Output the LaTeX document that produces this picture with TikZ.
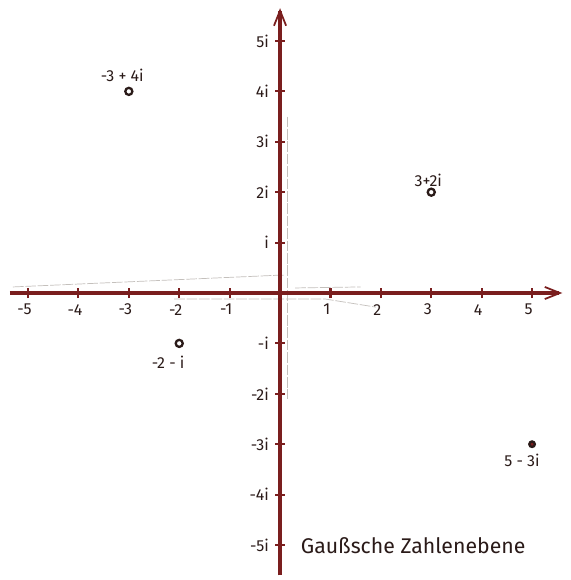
\documentclass[tikz,border=0pt]{standalone}
\usepackage{fontspec}
\setsansfont{Fira Sans}
\usetikzlibrary{arrows.meta,calc}
\definecolor{axisred}{HTML}{7A1E1E}
\definecolor{ink}{HTML}{2A1A18}
\definecolor{pencil}{HTML}{C4C0BC}
\tikzset{
  axis/.style={draw=axisred, line width=2pt, -{Straight Barb[length=3mm, width=2.4mm, line width=1pt]}},
  tick/.style={draw=axisred, line width=1.2pt},
  lbl/.style={text=ink, font=\sffamily\small, inner sep=1pt},
  pt/.style={draw=ink, line width=1.3pt},
  guide/.style={draw=pencil, line width=0.4pt, dash pattern=on 6pt off 1pt}}
\begin{document}
\begin{tikzpicture}[x=1cm, y=1cm]
\useasboundingbox[fill=white] (-5.556,-5.694) rectangle (5.754,5.813);
% faint pencil guides
\draw[guide] (-5.3,0.12) -- (-0.1,0.35) -- (0.1,0.35);
\draw[guide] (-2.1,-0.12) -- (0.9,-0.12) -- (1.9,-0.28);
\draw[guide] (0.14,3.5) -- (0.14,-2.1);
\draw[guide] (0.3,0.1) -- (1.6,0.12);
% axes
\coordinate (xs) at (-5.36,0);
\coordinate (xe) at (5.6,0);
\coordinate (ys) at (0,-5.6);
\coordinate (ye) at (0,5.65);
\draw[axis] (xs) -- (xe);
\draw[axis] (ys) -- (ye);
% ticks and labels
\foreach \k in {-5,-4,-3,-2,-1,1,2,3,4,5}{
  \draw[tick] (\k,-0.1) -- (\k,0.1);
  \node[lbl] (x\k) at (\k-0.07,-0.33) {\k};
  \draw[tick] (-0.1,\k) -- (0.1,\k);
}
\foreach \k/\t in {5/5i,4/4i,3/3i,2/2i,1/i,-1/-i,-2/-2i,-3/-3i,-4/-4i,-5/-5i}
  \node[lbl, anchor=east] (y\k) at (-0.18,\k) {\t};
% points
\draw[pt] (-3,4) circle (0.07);
\draw[pt] (3,2) circle (0.07);
\draw[pt] (-2,-1) circle (0.07);
\draw[pt, fill=axisred] (5,-3) circle (0.055);
\node[lbl] (za) at (-3.13,4.31) {-3 + 4i};
\node[lbl] (zb) at (2.94,2.24) {3+2i};
\node[lbl] (zc) at (-2.22,-1.37) {-2 - i};
\node[lbl] (zd) at (4.8,-3.33) {5 - 3i};
\node[lbl, font=\sffamily\large] (title) at (2.64,-5.02) {Gaußsche Zahlenebene};
\end{tikzpicture}
\end{document}
